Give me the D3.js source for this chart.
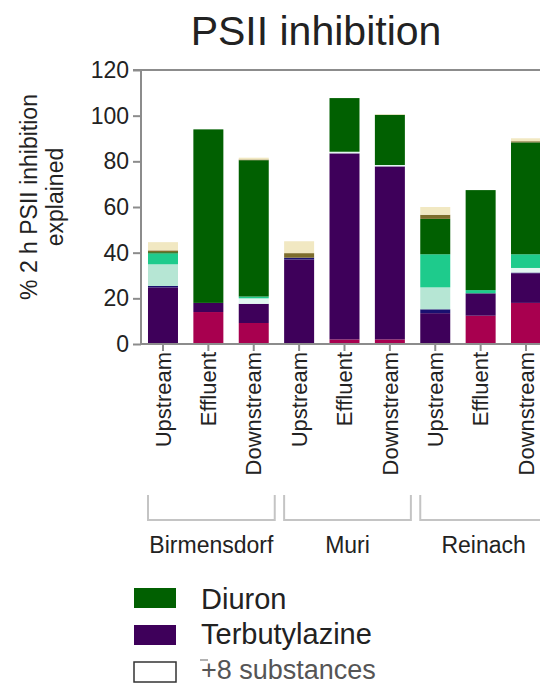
<!DOCTYPE html>
<meta charset="utf-8"/>
<style>
  body { margin: 0; background: #fff; }
  svg { display: block; font-family: "Liberation Sans", Arial, sans-serif; }
  .axis path { display: none; }
  .axis line { stroke: #8c8c8c; stroke-width: 2px; }
  .axis text { fill: #222; }
</style>
<svg width="540" height="685"></svg>
<script src="https://cdnjs.cloudflare.com/ajax/libs/d3/7.8.5/d3.min.js"></script>
<script>

  // sites and sampling positions (one bar each)
  var sites = ["Birmensdorf", "Muri", "Reinach"];
  var positions = ["Upstream", "Effluent", "Downstream"];

  // % of 2 h PSII inhibition explained, per substance, bar order as above
  var crimson  = [0,    14,   9.2,  0,   2,    2,    0,    12.4, 18];
  var terbuty  = [24.8, 4,    8.4,  37,  81.5, 75.8, 13.5, 9.8,  13];
  var navy     = [0.6,  0,    0,    0.8, 0,    0,    1.7,  0,    0.3];
  var mint     = [9.5,  0,    0,    0,   0,    0,    9.6,  0,    0];
  var pale     = [0,    0,    2.4,  0,   0.7,  0.6,  0,    0,    2];
  var aqua     = [4.8,  0,    0.8,  0,   0,    0,    14.5, 1.4,  6];
  var diuron   = [0.5,  76,   59.7, 0,   23.5, 22,   15.5, 43.8, 49];
  var olive    = [0.8,  0,    0.3,  2,   0,    0,    1.8,  0,    0.5];
  var cream    = [3.6,  0,    0.8,  5.2, 0,    0.3,  3.4,  0,    1.3];

  var yTicks = [0, 20, 40, 60, 80, 100, 120];

  var series = [
    { key: "crimson", values: crimson, color: "#a8004f" },
    { key: "terbuty", values: terbuty, color: "#3e005a" },
    { key: "navy",    values: navy,    color: "#1a1070" },
    { key: "mint",    values: mint,    color: "#b6e6d4" },
    { key: "pale",    values: pale,    color: "#e2f6f1" },
    { key: "aqua",    values: aqua,    color: "#1ecb8c" },
    { key: "diuron",  values: diuron,  color: "#016001" },
    { key: "olive",   values: olive,   color: "#7d6d2c" },
    { key: "cream",   values: cream,   color: "#f1e8c2" }
  ];

  // table rows for d3.stack
  var bars = [];
  sites.forEach(function (s) {
    positions.forEach(function (p) {
      var row = { id: s + "-" + p, site: s, pos: p };
      var i = bars.length;
      series.forEach(function (sr) { row[sr.key] = sr.values[i]; });
      bars.push(row);
    });
  });

  var svg = d3.select("svg"),
      width = +svg.attr("width");

  var x = d3.scaleBand()
    .domain(bars.map(function (d) { return d.id; }))
    .range([141, 548])
    .paddingInner(0.339)
    .paddingOuter(0.154);

  var y = d3.scaleLinear().domain([0, 120]).range([344, 70]);

  var stack = d3.stack().keys(series.map(function (s) { return s.key; }));
  var layers = stack(bars);

  // bars
  svg.append("g").selectAll("g")
    .data(layers)
    .enter().append("g")
    .attr("fill", function (d, i) { return series[i].color; })
    .selectAll("rect")
    .data(function (d) { return d; })
    .enter().append("rect")
    .attr("x", function (d) { return x(d.data.id); })
    .attr("width", x.bandwidth())
    .attr("y", function (d) { return y(d[1]); })
    .attr("height", function (d) { return y(d[0]) - y(d[1]); });

  // y axis
  var yAxis = svg.append("g")
    .attr("class", "axis")
    .attr("transform", "translate(141,0)")
    .call(d3.axisLeft(y).tickValues(yTicks).tickSize(8).tickPadding(4));
  yAxis.selectAll("text").style("font-size", "23px");

  svg.append("line")
    .attr("x1", 141).attr("x2", 141)
    .attr("y1", y(120)).attr("y2", y(0))
    .attr("stroke", "#8c8c8c").attr("stroke-width", 2);
  // top frame line
  svg.append("line")
    .attr("x1", 133).attr("x2", width)
    .attr("y1", y(120)).attr("y2", y(120))
    .attr("stroke", "#8c8c8c").attr("stroke-width", 2);

  // x axis
  var xAxis = svg.append("g")
    .attr("class", "axis")
    .attr("transform", "translate(0," + y(0) + ")")
    .call(d3.axisBottom(x).tickSize(7).tickPadding(8)
      .tickFormat(function (id) { return id.split("-")[1]; }));
  xAxis.selectAll("text")
    .style("font-size", "22px")
    .attr("text-anchor", "end")
    .attr("transform", "rotate(-90)")
    .attr("x", -8)
    .attr("y", 0)
    .attr("dy", "0.35em");

  svg.append("line")
    .attr("x1", 141).attr("x2", width)
    .attr("y1", y(0)).attr("y2", y(0))
    .attr("stroke", "#8c8c8c").attr("stroke-width", 2);

  // site brackets
  var bracket = svg.append("g").selectAll("g")
    .data(sites)
    .enter().append("g");

  function siteX0 (s) { return x(s + "-" + positions[0]); }
  function siteX1 (s) { return x(s + "-" + positions[2]) + x.bandwidth() + 6; }

  bracket.append("path")
    .attr("fill", "none")
    .attr("stroke", "#c4c4c4")
    .attr("stroke-width", 2)
    .attr("d", function (s) {
      return "M" + siteX0(s) + ",495V520H" + siteX1(s) + "V495";
    });

  bracket.append("text")
    .attr("x", function (s) { return (siteX0(s) + siteX1(s)) / 2; })
    .attr("y", 553)
    .attr("text-anchor", "middle")
    .style("font-size", "23px")
    .attr("fill", "#222")
    .text(function (s) { return s; });

  // title
  svg.append("text")
    .attr("x", 316)
    .attr("y", 45)
    .attr("text-anchor", "middle")
    .style("font-size", "41px")
    .attr("fill", "#222")
    .text("PSII inhibition");

  // y label
  var yl = svg.append("text")
    .attr("transform", "translate(0,197) rotate(-90)")
    .attr("text-anchor", "middle")
    .style("font-size", "23px")
    .attr("fill", "#222");
  yl.append("tspan").attr("x", 0).attr("y", 37).text("% 2 h PSII inhibition");
  yl.append("tspan").attr("x", 0).attr("y", 63).text("explained");

  // legend
  var legend = [
    { label: "Diuron", fill: "#016001", stroke: "none", top: 588, base: 609, color: "#222", size: 29 },
    { label: "Terbutylazine", fill: "#3e005a", stroke: "none", top: 625, base: 644, color: "#222", size: 29 },
    { label: "+8 substances", fill: "#fff", stroke: "#333", top: 662, base: 679, color: "#555", size: 27 }
  ];

  var lg = svg.append("g").selectAll("g")
    .data(legend)
    .enter().append("g");

  lg.append("rect")
    .attr("x", 134)
    .attr("y", function (d) { return d.top; })
    .attr("width", 42)
    .attr("height", 20)
    .attr("fill", function (d) { return d.fill; })
    .attr("stroke", function (d) { return d.stroke; })
    .attr("stroke-width", 1.5);

  lg.append("text")
    .attr("x", 201)
    .attr("y", function (d) { return d.base; })
    .style("font-size", function (d) { return d.size + "px"; })
    .attr("fill", function (d) { return d.color; })
    .text(function (d) { return d.label; });

  // small stroke above "+8"
  svg.append("line")
    .attr("x1", 200).attr("x2", 208)
    .attr("y1", 660).attr("y2", 660)
    .attr("stroke", "#999").attr("stroke-width", 1.5);

</script>
